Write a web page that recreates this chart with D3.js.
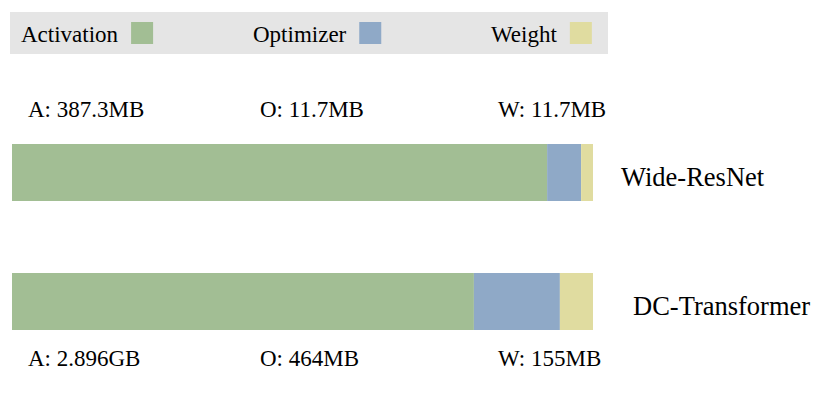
<!DOCTYPE html>
<html>
<head>
<meta charset="utf-8">
<script src="https://cdn.jsdelivr.net/npm/d3@7"></script>
<style>
    body { margin: 0; background: #fff; }
    text { font-family: "Liberation Serif", "Times New Roman", serif; fill: #000; }
</style>
</head>
<body>
<div id="chart"></div>
<script>
"use strict";

// memory components and the two models
const components = ["Activation", "Optimizer", "Weight"];
const models = ["Wide-ResNet", "DC-Transformer"];
// drawn share of each bar (%)
const wideResNetShare = [92.1, 5.85, 2.05];
const dcTransformerShare = [79.5, 14.8, 5.7];
// value labels
const wideResNetLabels = ["A: 387.3MB", "O: 11.7MB", "W: 11.7MB"];
const dcTransformerLabels = ["A: 2.896GB", "O: 464MB", "W: 155MB"];

const colors = ["#a2be94", "#8fa9c7", "#e0dca0"];

function main() {
    const width = 830, height = 396;
    const svg = d3.select("#chart").append("svg")
        .attr("width", width).attr("height", height);

    const shares = [wideResNetShare, dcTransformerShare];
    const labels = [wideResNetLabels, dcTransformerLabels];

    const xScale = d3.scaleLinear().domain([0, 100]).range([12, 593]);
    const yScale = d3.scalePoint().domain(models).range([144, 273]);
    const barHeight = 57;
    const color = d3.scaleOrdinal().domain(components).range(colors);

    // legend
    const legend = svg.append("g");
    legend.append("rect")
        .attr("x", 10).attr("y", 12)
        .attr("width", 598).attr("height", 42)
        .attr("fill", "#e5e5e5");
    const legendX = [21, 253, 491];
    components.forEach(function (c, i) {
        const t = legend.append("text")
            .attr("x", legendX[i]).attr("y", 42)
            .attr("font-size", 23)
            .text(c);
        const len = t.node().getComputedTextLength();
        legend.append("rect")
            .attr("x", legendX[i] + len + 13).attr("y", 22)
            .attr("width", 22).attr("height", 22)
            .attr("fill", color(c));
    });

    // stacked bars
    models.forEach(function (m, mi) {
        const stack = d3.cumsum(shares[mi]);
        const g = svg.append("g");
        g.selectAll("rect")
            .data(shares[mi])
            .enter().append("rect")
            .attr("x", function (d, i) { return xScale(stack[i] - d); })
            .attr("y", yScale(m))
            .attr("width", function (d) { return xScale(d) - xScale(0); })
            .attr("height", barHeight)
            .attr("fill", function (d, i) { return color(components[i]); });
    });

    // model names
    const nameX = [621, 633];
    const nameY = [186, 315];
    models.forEach(function (m, mi) {
        svg.append("text")
            .attr("x", nameX[mi]).attr("y", nameY[mi])
            .attr("font-size", 26.5)
            .text(m);
    });

    // value labels: above the first bar, below the second
    const labelX = [28, 260, 498];
    const labelY = [117, 366];
    labels.forEach(function (row, mi) {
        svg.selectAll(null)
            .data(row)
            .enter().append("text")
            .attr("x", function (d, i) { return labelX[i]; })
            .attr("y", labelY[mi])
            .attr("font-size", 23)
            .text(function (d) { return d; });
    });
}

main();
</script>
</body>
</html>
